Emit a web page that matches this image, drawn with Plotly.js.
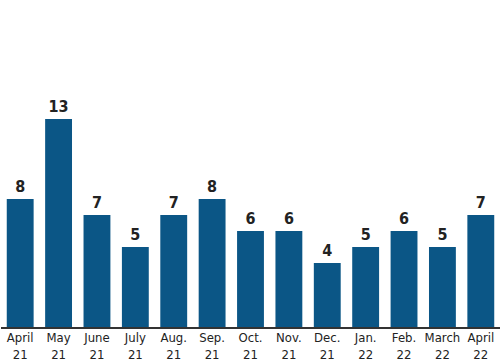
<!DOCTYPE html>
<html>
<head>
<meta charset="utf-8">
<script src="https://cdn.plot.ly/plotly-3.0.1.min.js"></script>
<style>html,body{margin:0;padding:0;background:#fff;}#chart{width:500px;height:364px;}</style>
</head>
<body>
<div id="chart"></div>
<script>
const months = ["April", "May", "June", "July", "Aug.", "Sep.", "Oct.", "Nov.", "Dec.", "Jan.", "Feb.", "March", "April"];
const years = ["21", "21", "21", "21", "21", "21", "21", "21", "21", "22", "22", "22", "22"];
const counts = [8, 13, 7, 5, 7, 8, 6, 6, 4, 5, 6, 5, 7];

const cats = months.map((m, i) => i);
const tickText = months.map((m, i) => m + "<br>" + years[i]);
const condensed = "'DejaVu Sans Condensed', 'Liberation Sans Narrow', sans-serif";

const trace = {
  type: "bar",
  x: cats,
  y: counts,
  text: counts.map(String),
  textposition: "outside",
  cliponaxis: false,
  textfont: {family: condensed, size: 16, color: "#222", weight: "bold"},
  marker: {color: "#0b5686"},
  hoverinfo: "none"
};

const layout = {
  width: 500, height: 364,
  margin: {l: 1, r: 0, t: 7, b: 37},
  paper_bgcolor: "#fff", plot_bgcolor: "#fff",
  bargap: 0.3,
  showlegend: false,
  xaxis: {
    range: [-0.5, 12.5],
    tickmode: "array", tickvals: cats, ticktext: tickText,
    showline: true, linecolor: "#333", linewidth: 2,
    ticks: "", showgrid: false, zeroline: false,
    ticklabelstandoff: -3,
    tickfont: {family: condensed, size: 13, color: "#222"},
    fixedrange: true
  },
  yaxis: {
    range: [0, 20], visible: false, showgrid: false, zeroline: false, fixedrange: true
  }
};

Plotly.newPlot("chart", [trace], layout, {staticPlot: true, displayModeBar: false});
</script>
</body>
</html>
